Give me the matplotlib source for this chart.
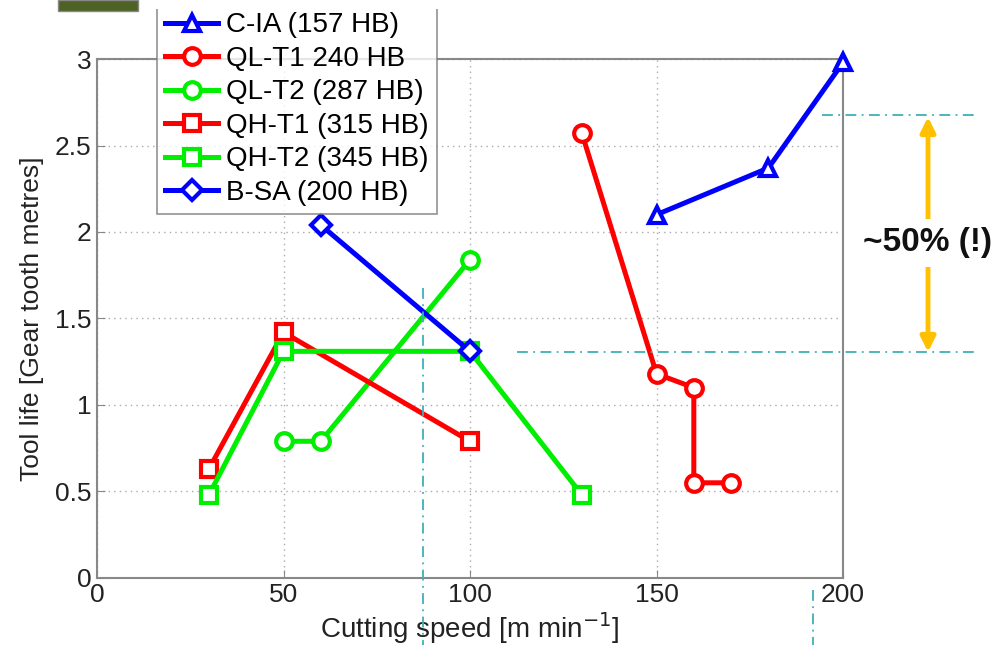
import matplotlib.pyplot as plt
from matplotlib.patches import Rectangle
from matplotlib.lines import Line2D

plt.rcParams['font.family'] = ['Liberation Sans', 'DejaVu Sans']

# data
cia_x = [150, 180, 200]
cia_y = [2.10, 2.37, 2.98]
qlt1_x = [130, 150, 160, 160, 170]
qlt1_y = [2.57, 1.18, 1.10, 0.55, 0.55]
qlt2_x = [50, 60, 100]
qlt2_y = [0.79, 0.79, 1.84]
qht1_x = [30, 50, 100]
qht1_y = [0.63, 1.42, 0.79]
qht2_x = [30, 50, 100, 130]
qht2_y = [0.48, 1.31, 1.31, 0.48]
bsa_x = [60, 100]
bsa_y = [2.04, 1.31]

labels = ['C-IA (157 HB)', 'QL-T1 240 HB', 'QL-T2 (287 HB)',
          'QH-T1 (315 HB)', 'QH-T2 (345 HB)', 'B-SA (200 HB)']

fig = plt.figure(figsize=(9.96, 6.45), dpi=100)
ax = fig.add_axes([0.0974, 0.104, 0.7490, 0.8045])

blue, red, green = '#0000ff', '#ff0000', '#00ee00'

series = [
    (cia_x, cia_y, blue, '^'),
    (qlt1_x, qlt1_y, red, 'o'),
    (qlt2_x, qlt2_y, green, 'o'),
    (qht1_x, qht1_y, red, 's'),
    (qht2_x, qht2_y, green, 's'),
    (bsa_x, bsa_y, blue, 'D'),
]
handles = []
for (x, y, c, m), lab in zip(series, labels):
    ms = 10 if m == 'D' else 12
    h, = ax.plot(x, y, color=c, marker=m, mec=c, label=lab, lw=3.6,
                 ms=ms, mew=3, mfc='white', clip_on=False, zorder=3)
    handles.append(h)

ax.set_xlim(0, 200)
ax.set_ylim(0, 3)
ax.set_xticks([0, 50, 100, 150, 200])
ax.set_yticks([0, 0.5, 1, 1.5, 2, 2.5, 3])
ax.set_yticklabels(['0', '0.5', '1', '1.5', '2', '2.5', '3'])
ax.tick_params(direction='in', labelsize=19, colors='#888888',
               labelcolor='#222222', length=6, pad=4)
ax.grid(True, ls=(0, (1, 3)), color='#aaaaaa', lw=1)
for s in ax.spines.values():
    s.set_color('#888888')
    s.set_linewidth(1.5)

ax.set_xlabel('Cutting speed [m min$^{-1}$]', fontsize=20, color='#222222',
              labelpad=2)
ax.set_ylabel('Tool life [Gear tooth metres]', fontsize=19, color='#222222',
              labelpad=8)

leg = fig.legend(handles=handles, loc='upper left',
                 bbox_to_anchor=(157 / 996, 1 - 4 / 645), fontsize=20,
                 frameon=True, fancybox=False, edgecolor='#777777',
                 handlelength=1.9, labelspacing=0.27, borderpad=0.3,
                 handletextpad=0.3, borderaxespad=0)
leg.get_frame().set_linewidth(1.2)

# annotation lines (figure pixel coords)
def px(x, y):
    return x / 996, 1 - y / 645

# white strip hiding the legend's top edge, as in the cropped original
fig.add_artist(Rectangle(px(145, 9), 320 / 996, 9 / 645,
                         transform=fig.transFigure, facecolor='white',
                         edgecolor='none', zorder=10))

cyan = '#3fb0b8'
dash = dict(color=cyan, lw=1.3, ls=(0, (6, 3, 1, 3)), transform=fig.transFigure)
for (x0, y0), (x1, y1) in [((423, 288), (423, 645)), ((813, 590), (813, 645)),
                           ((822, 115), (975, 115)), ((517, 352), (975, 352))]:
    a, b = px(x0, y0)
    c, d = px(x1, y1)
    fig.add_artist(Line2D([a, c], [b, d], **dash))

orange = '#ffc000'
fig.add_artist(plt.Annotation('', xy=px(928, 117), xytext=px(928, 352),
                              xycoords='figure fraction',
                              textcoords='figure fraction',
                              arrowprops=dict(arrowstyle='<|-|>', color=orange,
                                              lw=3.5, mutation_scale=22,
                                              shrinkA=0, shrinkB=0)))
tx, ty = px(927, 243)
fig.text(tx, ty, '~50% (!)', fontsize=24, fontweight='bold', ha='center',
         va='center', color='#111111',
         bbox=dict(facecolor='white', edgecolor='none', pad=6))

# dark box at the top left corner
fig.add_artist(Rectangle(px(58, 11), 80 / 996, 11 / 645,
                         transform=fig.transFigure, facecolor='#4e6224',
                         edgecolor='#888888', lw=1))

fig.savefig('out.png', dpi=100)
